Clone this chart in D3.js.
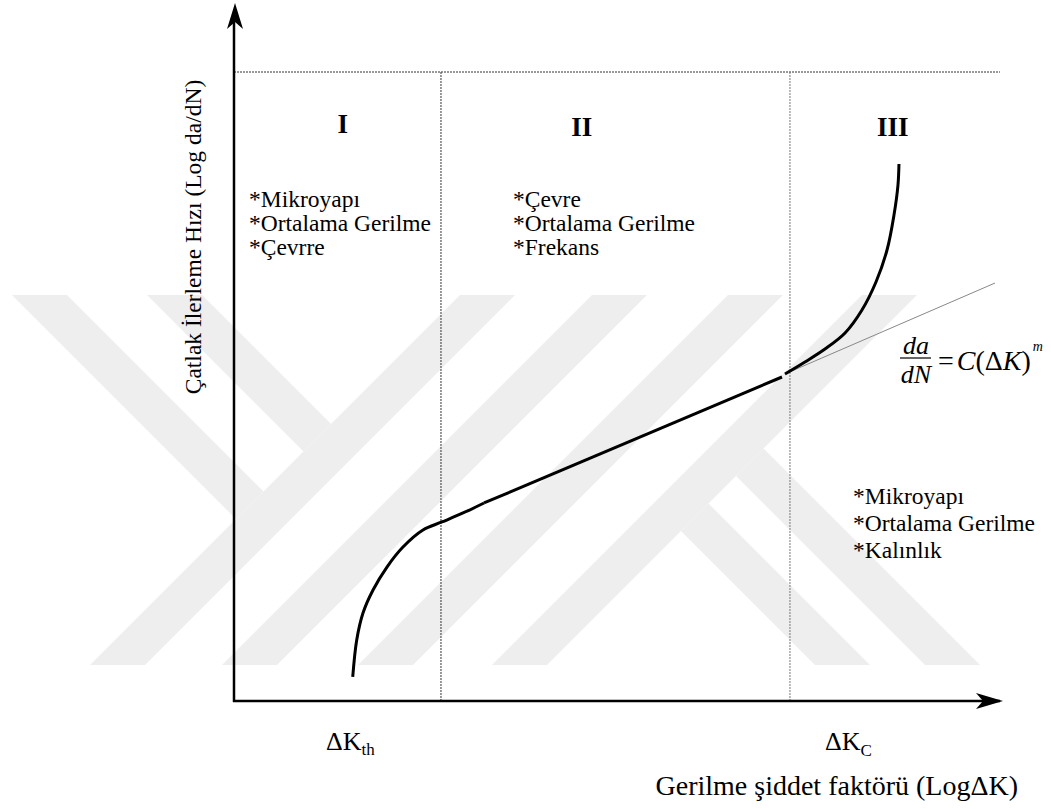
<!DOCTYPE html>
<html><head><meta charset="utf-8">
<script src="https://cdn.jsdelivr.net/npm/d3@7"></script>
<style>body{margin:0;background:#fff}svg{display:block}text{font-family:"Liberation Serif","Times New Roman",serif;fill:#000}</style>
</head><body>
<svg id="chart" width="1051" height="809"></svg>
<script>
// ---- data (x: log ΔK, y: log da/dN, arbitrary units 0–10) ----
const regionI = [[1.550,0.382],[1.602,0.970],[1.684,1.399],[1.815,1.765],[1.997,2.130],[2.206,2.448],[2.467,2.719],[2.715,2.846],[2.990,2.989],[3.264,3.148]];
const regionII = [[3.264,3.148],[7.154,5.151]];
const regionIII = [[7.193,5.199],[7.454,5.390],[7.715,5.596],[7.977,5.851],[8.198,6.216],[8.381,6.661],[8.525,7.170],[8.616,7.727],[8.668,8.203],[8.681,8.537]];
const parisLine = [[7.193,5.199],[9.935,6.645]];
const boundaries = [2.702, 7.258];
const regionLabels = ["I","II","III"];
const regionCenters = [1.42, 4.54, 8.60];
const factorsI = ["*Mikroyapı","*Ortalama Gerilme","*Çevrre"];
const factorsII = ["*Çevre","*Ortalama Gerilme","*Frekans"];
const factorsIII = ["*Mikroyapı","*Ortalama Gerilme","*Kalınlık"];
const xTitle = "Gerilme şiddet faktörü (LogΔK)";
const yTitle = "Çatlak İlerleme Hızı (Log da/dN)";

const W = 1051, H = 809;
const svg = d3.select("#chart");
svg.append("rect").attr("width", W).attr("height", H).attr("fill", "#fff");

const x = d3.scaleLinear().domain([0, 10]).range([234, 1000]);
const y = d3.scaleLinear().domain([0, 10]).range([701, 72]);

// ---- background watermark (light grey stripes) ----
const wm = svg.append("g").attr("fill", "#eeeeee");
const wTop = 295, wBot = 665, bw = 55, hh = wBot - wTop;
const slashBands = [90, 222, 358, 492];
slashBands.forEach(b => {
  wm.append("polygon").attr("points", [[b, wBot], [b + bw, wBot], [b + bw + hh, wTop], [b + hh, wTop]].join(" "));
});
const S3 = slashBands[0] + wBot;
[12, 147].forEach(t => {
  const kl = wTop - t, kr = wTop - (t + bw);
  const xl = (S3 - kl) / 2, xr = (S3 - kr) / 2;
  wm.append("polygon").attr("points", [[t, wTop], [t + bw, wTop], [xr, S3 - xr], [xl, S3 - xl]].join(" "));
});
const S6 = slashBands[3] + bw + wBot;
[815, 925].forEach(b => {
  const kl = wBot - b, kr = wBot - (b + bw);
  const xl = (S6 - kl) / 2, xr = (S6 - kr) / 2;
  wm.append("polygon").attr("points", [[b, wBot], [b + bw, wBot], [xr, S6 - xr], [xl, S6 - xl]].join(" "));
});

// ---- dotted frame lines ----
svg.append("line").attr("x1", x(0)).attr("x2", x(10)).attr("y1", y(10)).attr("y2", y(10))
  .attr("stroke", "#333").attr("stroke-width", 1).attr("stroke-dasharray", "2,1");
svg.selectAll("line.bound").data(boundaries).enter().append("line").attr("class", "bound")
  .attr("x1", d => x(d)).attr("x2", d => x(d)).attr("y1", y(0)).attr("y2", y(10))
  .attr("stroke", (d, i) => i ? "#777" : "#333").attr("stroke-width", 1).attr("stroke-dasharray", "2,1");

// ---- axes with arrows ----
const xAxis = svg.append("g").attr("transform", `translate(0,${y(0)})`)
  .call(d3.axisBottom(x).tickValues([]).tickSizeOuter(0));
xAxis.select(".domain").attr("stroke", "#000").attr("stroke-width", 2.5).attr("d", `M${x(0) - 1},0H${x(10)}`);
const yAxis = svg.append("g").attr("transform", `translate(${x(0)},0)`)
  .call(d3.axisLeft(y).tickValues([]).tickSizeOuter(0));
yAxis.select(".domain").attr("stroke", "#000").attr("stroke-width", 2.5).attr("d", `M0,${y(0) + 1}V20`);
const ax = x(10) + 3, ay = y(0);
svg.append("path").attr("d", `M${ax},${ay} L${ax - 27},${ay - 8} L${ax - 20},${ay} L${ax - 27},${ay + 8} Z`).attr("fill", "#000");
const tx = x(0) + 1, ty = 3;
svg.append("path").attr("d", `M${tx},${ty} L${tx - 8},${ty + 26} L${tx},${ty + 19} L${tx + 8},${ty + 26} Z`).attr("fill", "#000");

// ---- curve ----
const straight = d3.line().x(d => x(d[0])).y(d => y(d[1]));
const smooth = d3.line().x(d => x(d[0])).y(d => y(d[1])).curve(d3.curveCatmullRom.alpha(0.5));
svg.append("path").datum(parisLine).attr("d", straight).attr("fill", "none").attr("stroke", "#888").attr("stroke-width", 1);
svg.append("path").datum(regionI).attr("d", smooth).attr("fill", "none").attr("stroke", "#000").attr("stroke-width", 3);
svg.append("path").datum(regionII).attr("d", straight).attr("fill", "none").attr("stroke", "#000").attr("stroke-width", 3);
svg.append("path").datum(regionIII).attr("d", smooth).attr("fill", "none").attr("stroke", "#000").attr("stroke-width", 3);

// ---- region labels ----
svg.selectAll("text.reg").data(regionLabels).enter().append("text").attr("class", "reg")
  .attr("x", (d, i) => x(regionCenters[i])).attr("y", (d, i) => i ? 136 : 133)
  .attr("text-anchor", "middle").style("font-weight", "bold").style("font-size", "27px").text(d => d);

// ---- factor lists ----
function list(items, x0, y0, dy) {
  svg.append("g").selectAll("text").data(items).enter().append("text")
    .attr("x", x0).attr("y", (d, i) => y0 + i * dy).style("font-size", "23.5px").text(d => d);
}
list(factorsI, 249, 207, 24);
list(factorsII, 513, 207, 24);
list(factorsIII, 853, 504, 27);

// ---- Paris law formula ----
const fg = svg.append("g").style("font-size", "26px");
fg.append("text").attr("x", 916).attr("y", 354).attr("text-anchor", "middle").style("font-style", "italic").text("da");
fg.append("line").attr("x1", 900).attr("x2", 931).attr("y1", 358).attr("y2", 358).attr("stroke", "#000").attr("stroke-width", 1.2);
fg.append("text").attr("x", 916).attr("y", 383).attr("text-anchor", "middle").style("font-style", "italic").text("dN");
const ft = fg.append("text").attr("x", 938).attr("y", 370).style("font-size", "28px");
ft.append("tspan").text("=");
ft.append("tspan").attr("dx", 3).style("font-style", "italic").text("C");
ft.append("tspan").text("(Δ");
ft.append("tspan").style("font-style", "italic").text("K");
ft.append("tspan").text(")");
ft.append("tspan").attr("dy", -19).attr("dx", 2).style("font-style", "italic").style("font-size", "14px").text("m");

// ---- axis point labels ----
const kth = svg.append("text").attr("x", 326).attr("y", 750).style("font-size", "26px");
kth.append("tspan").text("ΔK");
kth.append("tspan").attr("dy", 5).style("font-size", "17px").text("th");
const kc = svg.append("text").attr("x", 825).attr("y", 750).style("font-size", "26px");
kc.append("tspan").text("ΔK");
kc.append("tspan").attr("dy", 6).style("font-size", "17px").text("C");

// ---- axis titles ----
svg.append("text").attr("x", 1018).attr("y", 795).attr("text-anchor", "end").style("font-size", "28px").text(xTitle);
svg.append("text").attr("transform", "translate(201,237) rotate(-90)").attr("text-anchor", "middle")
  .style("font-size", "23.5px").text(yTitle);
</script>
</body></html>
